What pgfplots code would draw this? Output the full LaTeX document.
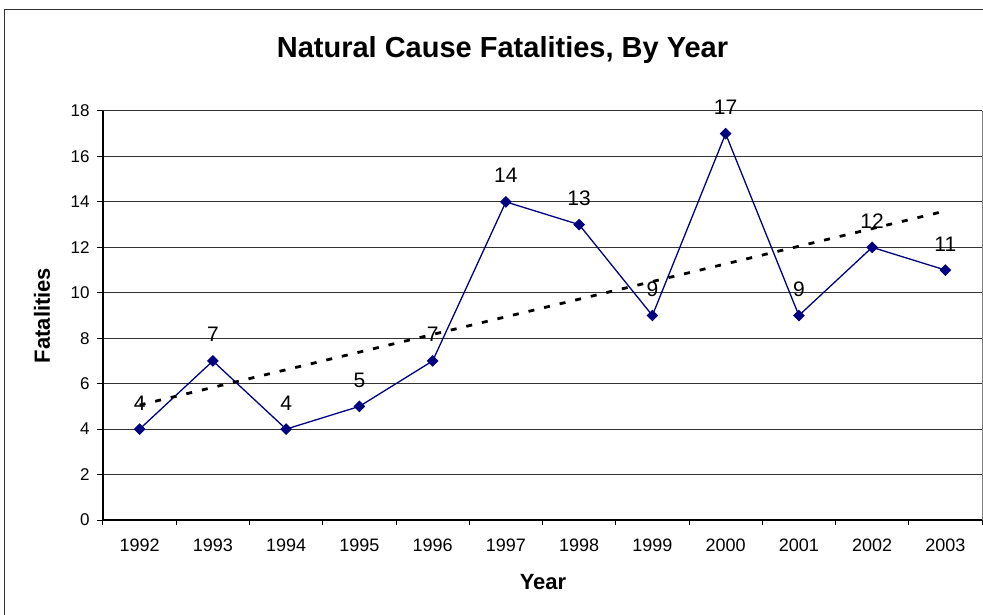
\documentclass[border=0pt]{standalone}
\usepackage{pgfplots}
\pgfplotsset{compat=1.18}
\usepackage{fontspec}
\setmainfont{Liberation Sans}
\definecolor{navyline}{RGB}{0,0,128}
\begin{document}
\begin{tikzpicture}[x=1pt,y=1pt]
\useasboundingbox (0,0) rectangle (983,614);
\draw[line width=1.5pt, black!80] (4.5,-2) -- (4.5,604.5) -- (985,604.5);
\begin{axis}[
  at={(103pt,94pt)}, anchor=south west,
  scale only axis, width=879pt, height=409pt,
  xmin=-0.5, xmax=11.5, ymin=0, ymax=18,
  axis line style={draw=none},
  clip=false,
  /pgf/number format/assume math mode=true,
  xtick={0,1,2,3,4,5,6,7,8,9,10,11},
  xticklabels={1992,1993,1994,1995,1996,1997,1998,1999,2000,2001,2002,2003},
  major x tick style={draw=none},
  minor xtick={-0.5,0.5,1.5,2.5,3.5,4.5,5.5,6.5,7.5,8.5,9.5,10.5,11.5},
  minor tick length=5pt,
  major tick length=6pt,
  tick align=outside,
  xtick pos=bottom, ytick pos=left,
  ytick={0,2,4,6,8,10,12,14,16,18},
  tick style={black, line width=1pt},
  ymajorgrids,
  major grid style={black!80, line width=1pt},
  xticklabel style={font=\fontsize{18}{18}\selectfont, yshift=-9pt},
  yticklabel style={font=\fontsize{17}{17}\selectfont, xshift=-4pt},
  title={Natural Cause Fatalities, By Year},
  title style={at={(0.4545,1.1345)}, anchor=center, font=\bfseries\fontsize{29}{29}\selectfont},
  xlabel={Year},
  ylabel={Fatalities},
  xlabel style={at={(0.5006,-0.1516)}, anchor=center, font=\bfseries\fontsize{22}{22}\selectfont},
  ylabel style={at={(-0.0694,0.5)}, anchor=center, font=\bfseries\fontsize{22}{22}\selectfont},
]
\draw[black, line width=1.3pt] (rel axis cs:0,1) -- (rel axis cs:0,0) -- (rel axis cs:1,0);
\draw[black!50, line width=1pt] (rel axis cs:1,0) -- (rel axis cs:1,1);
\addplot[color=navyline, line width=1.3pt, mark=square*, mark size=3.5pt,
  mark options={rotate=45, solid},
  nodes near coords,
  every node near coord/.append style={anchor=base, yshift=19pt, text=black, inner sep=0pt, font=\fontsize{21}{21}\selectfont}]
  coordinates {(0,4) (1,7) (2,4) (3,5) (4,7) (5,14) (6,13) (7,9) (8,17) (9,9) (10,12) (11,11)};
\addplot[black, line width=2.8pt, dash pattern=on 6pt off 10pt] coordinates {(0,5.06) (11,13.60)};
\end{axis}
\end{tikzpicture}
\end{document}
